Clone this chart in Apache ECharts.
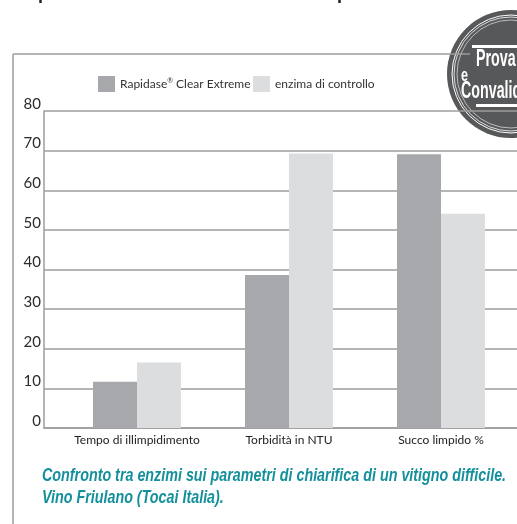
<!DOCTYPE html>
<html>
<head>
<meta charset="utf-8">
<script src="https://cdn.jsdelivr.net/npm/echarts@6/dist/echarts.min.js"></script>
<style>
  html, body { margin: 0; padding: 0; background: #fff; }
  #chart { width: 517px; height: 524px; }
</style>
</head>
<body>
<div id="chart"></div>
<script>
const categories = ["Tempo di illimpidimento", "Torbidità in NTU", "Succo limpido %"];
const rapidase = [11.7, 38.6, 69.1];
const controllo = [16.5, 69.3, 54.1];
const yTicks = [0, 10, 20, 30, 40, 50, 60, 70, 80];

const FONT = "Lato, 'Liberation Sans', sans-serif";
const DARK = "#a7a8ab";
const LIGHT = "#dcdddf";
const GRID_LINE = "#9c9c9c";

const chart = echarts.init(document.getElementById("chart"));

const option = {
  animation: false,
  grid: [
    // bars
    { left: 61, width: 462, top: 111, height: 317 },
    // frame: gridlines, y labels, axis ticks
    { left: 44, width: 474, top: 111, height: 317 }
  ],
  legend: [
    {
      data: ["Rapidase® Clear Extreme"],
      left: 98, top: 76, padding: 0,
      itemWidth: 17, itemHeight: 16,
      icon: "rect",
      formatter: () => "{a|Rapidase}{r|®}{a| Clear Extreme}",
      textStyle: {
        fontFamily: FONT, fontSize: 12, color: "#333",
        rich: {
          a: { fontFamily: FONT, fontSize: 12, color: "#333" },
          r: { fontFamily: FONT, fontSize: 7, color: "#333", verticalAlign: "top", padding: [0, 0, 6, 0] }
        }
      }
    },
    {
      data: ["enzima di controllo"],
      left: 253, top: 76, padding: 0,
      itemWidth: 17, itemHeight: 16,
      icon: "rect",
      textStyle: { fontFamily: FONT, fontSize: 12, color: "#333" }
    }
  ],
  xAxis: [
    {
      type: "category",
      gridIndex: 0,
      data: categories,
      axisLine: { show: false },
      axisTick: { show: false },
      axisLabel: { interval: 0, fontFamily: FONT, fontSize: 12, color: "#222", margin: 6 }
    },
    {
      type: "category",
      gridIndex: 1,
      data: ["", "", ""],
      axisLine: { lineStyle: { color: GRID_LINE, width: 1.5 } },
      axisTick: { length: 5, lineStyle: { color: GRID_LINE, width: 1.5 } },
      axisLabel: { show: false }
    }
  ],
  yAxis: [
    {
      type: "value",
      gridIndex: 0,
      min: 0, max: 80, interval: 10,
      show: false
    },
    {
      type: "value",
      gridIndex: 1,
      min: yTicks[0], max: yTicks[yTicks.length - 1], interval: 10,
      axisLine: { show: true, lineStyle: { color: GRID_LINE, width: 1.5 } },
      axisTick: { show: false },
      splitLine: { lineStyle: { color: GRID_LINE, width: 1.5 } },
      axisLabel: {
        fontFamily: FONT, fontSize: 15, color: "#2a2a2a",
        margin: 3, verticalAlign: "bottom", lineHeight: 14
      }
    }
  ],
  series: [
    {
      name: "Rapidase® Clear Extreme",
      type: "bar",
      xAxisIndex: 0, yAxisIndex: 0,
      data: rapidase,
      barWidth: 44,
      barGap: "0%",
      itemStyle: { color: DARK },
      z: 5
    },
    {
      name: "enzima di controllo",
      type: "bar",
      xAxisIndex: 0, yAxisIndex: 0,
      data: controllo,
      barWidth: 44,
      barGap: "0%",
      itemStyle: { color: LIGHT },
      z: 5
    }
  ],
  graphic: [
    // cut-off line of the page text above the box
    {
      type: "text", left: 38, top: -15, z: 1,
      style: {
        text: "produttivo in funzione delle vostre particolari situazioni.",
        font: "bold 18px 'Liberation Sans', sans-serif", fill: "#222"
      }
    },
    // box frame
    { type: "line", z: 1, shape: { x1: 13, y1: 54, x2: 470, y2: 54 }, style: { stroke: GRID_LINE, lineWidth: 1.5 } },
    { type: "line", z: 1, shape: { x1: 13, y1: 54, x2: 13, y2: 524 }, style: { stroke: GRID_LINE, lineWidth: 1.5 } },
    // stamp
    {
      type: "group", z: 10,
      children: [
        { type: "circle", shape: { cx: 511, cy: 74, r: 64 }, style: { fill: "#57585a" } },
        { type: "circle", shape: { cx: 511, cy: 74, r: 59 }, style: { fill: "none", stroke: "#fff", lineWidth: 1 } },
        { type: "circle", shape: { cx: 511, cy: 74, r: 57 }, style: { fill: "none", stroke: "#fff", lineWidth: 0.8 } },
        { type: "circle", shape: { cx: 511, cy: 74, r: 54 }, style: { fill: "none", stroke: "#fff", lineWidth: 0.6 } },
        { type: "rect", shape: { x: 472, y: 45, width: 50, height: 3 }, style: { fill: "#fff" } },
        { type: "rect", shape: { x: 476, y: 104, width: 46, height: 3 }, style: { fill: "#fff" } },
        {
          type: "text", x: 476, y: 48, scaleX: 0.62,
          style: { text: "Prova", font: "bold 23px 'Liberation Sans', sans-serif", fill: "#fff" }
        },
        {
          type: "text", x: 461, y: 67, scaleX: 0.7,
          style: { text: "e", font: "bold 18px 'Liberation Sans', sans-serif", fill: "#fff" }
        },
        {
          type: "text", x: 461, y: 80, scaleX: 0.62,
          style: { text: "Convalida", font: "bold 23px 'Liberation Sans', sans-serif", fill: "#fff" }
        }
      ]
    },
    // caption
    {
      type: "text", x: 42, y: 465, scaleX: 0.795,
      style: {
        text: "Confronto tra enzimi sui parametri di chiarifica di un vitigno difficile.\nVino Friulano (Tocai Italia).",
        font: "italic bold 18px 'Liberation Sans', sans-serif", fill: "#14909c", lineHeight: 22
      }
    }
  ]
};

chart.setOption(option);
</script>
</body>
</html>
